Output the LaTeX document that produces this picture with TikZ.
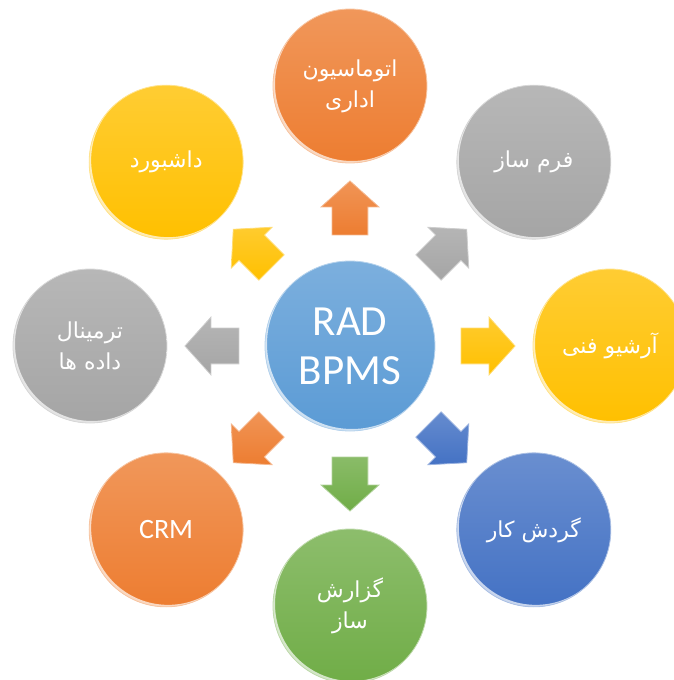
\documentclass[tikz,border=0pt]{standalone}
\usepackage{fontspec}
\setmainfont{Carlito}
\newfontfamily\arabicfont[Script=Arabic]{DejaVu Sans}
\TeXXeTstate=1
\usetikzlibrary{shapes.arrows, calc}

\definecolor{ofcorange}{HTML}{ED7D31}
\definecolor{ofcgray}{HTML}{A5A5A5}
\definecolor{ofcyellow}{HTML}{FFC000}
\definecolor{ofcblue}{HTML}{4472C4}
\definecolor{ofcgreen}{HTML}{70AD47}
\definecolor{ofclight}{HTML}{5B9BD5}

\begin{document}
\begin{tikzpicture}[x=1pt, y=1pt,
						ball/.style={circle, minimum size=154pt, inner sep=0pt, text=white, align=center,
							top color=#1!80!white, bottom color=#1, draw=#1!45!white, line width=.8pt,
							font=\arabicfont\fontsize{22}{31}\selectfont,
							path picture={\fill[white, opacity=.7, even odd rule]
								let \p1=($(path picture bounding box.east)-(path picture bounding box.center)$) in
								(path picture bounding box.center) circle[radius=\x1]
								([shift={(2pt,2pt)}]path picture bounding box.center) circle[radius=\x1];}},
						blockarrow/.style={single arrow, minimum height=54pt, inner xsep=0pt, inner ysep=17.5pt,
							single arrow head extend=11pt, single arrow tip angle=96,
							top color=#1!82!white, bottom color=#1, draw=#1!55!white, line width=.8pt},]
		\useasboundingbox (-350,-334) rectangle (323,346);

		\node (hub) [ball=ofclight, minimum size=170pt, font=\fontsize{43}{49}\selectfont] at (0,0) {RAD\\BPMS};

		\node (office) [ball=ofcorange] at (90:260) {\beginR اتوماسیون\endR\\\beginR اداری\endR};
		\node (formbuilder) [ball=ofcgray] at (45:260) {\beginR فرم ساز\endR};
		\node (archive) [ball=ofcyellow] at (0:260) {\beginR آرشیو فنی\endR};
		\node (workflow) [ball=ofcblue] at (-45:260) {\beginR گردش کار\endR};
		\node (report) [ball=ofcgreen] at (-90:260) {\beginR گزارش\endR\\\beginR ساز\endR};
		\node (crm) [ball=ofcorange, font=\fontsize{28}{30}\selectfont] at (-135:260) {CRM};
		\node (terminal) [ball=ofcgray] at (180:260) {\beginR ترمینال\endR\\\beginR داده ها\endR};
		\node (dashboard) [ball=ofcyellow] at (135:260) {\beginR داشبورد\endR};

		\node (to_office) [blockarrow=ofcorange, rotate=90] at ($(hub)!.5!(office)$) {};
		\node (to_formbuilder) [blockarrow=ofcgray, rotate=45] at ($(hub)!.5!(formbuilder)$) {};
		\node (to_archive) [blockarrow=ofcyellow, rotate=0] at ($(hub)!.5!(archive)$) {};
		\node (to_workflow) [blockarrow=ofcblue, rotate=-45] at ($(hub)!.5!(workflow)$) {};
		\node (to_report) [blockarrow=ofcgreen, rotate=-90] at ($(hub)!.5!(report)$) {};
		\node (to_crm) [blockarrow=ofcorange, rotate=-135] at ($(hub)!.5!(crm)$) {};
		\node (to_terminal) [blockarrow=ofcgray, rotate=180] at ($(hub)!.5!(terminal)$) {};
		\node (to_dashboard) [blockarrow=ofcyellow, rotate=135] at ($(hub)!.5!(dashboard)$) {};
	\end{tikzpicture}
\end{document}
